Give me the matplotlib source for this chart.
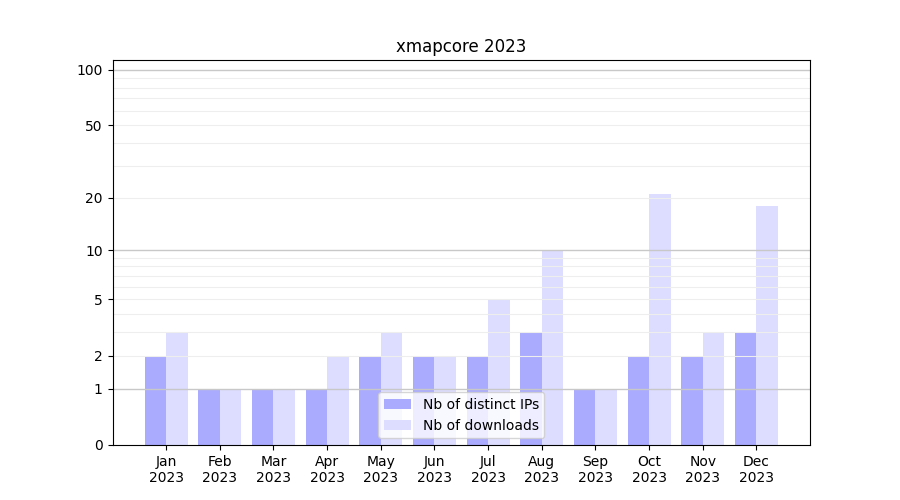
import numpy as np
import matplotlib.pyplot as plt

months = ['Jan', 'Feb', 'Mar', 'Apr', 'May', 'Jun', 'Jul', 'Aug', 'Sep', 'Oct', 'Nov', 'Dec']
year = '2023'
distinct_ips = [2, 1, 1, 1, 2, 2, 2, 3, 1, 2, 2, 3]
downloads = [3, 1, 1, 2, 3, 2, 5, 10, 1, 21, 3, 18]


def fwd(y):
    return np.log10(1 + np.clip(y, 0, None))


def inv(y):
    return 10 ** y - 1


fig, ax = plt.subplots(figsize=(9, 5), dpi=100)
x = np.arange(len(months))
ax.bar(x - 0.2, distinct_ips, width=0.4, color='#aaaaff', label='Nb of distinct IPs')
ax.bar(x + 0.2, downloads, width=0.4, color='#ddddff', label='Nb of downloads')

ax.set_yscale('function', functions=(fwd, inv))
ax.set_ylim(0, 113)
ax.set_yticks([0, 1, 2, 5, 10, 20, 50, 100])
ax.set_yticklabels(['0', '1', '2', '5', '10', '20', '50', '100'])
minor = [v for d in (1, 10) for v in range(2 * d, 10 * d, d)]
ax.set_yticks(minor, minor=True)
ax.tick_params(axis='y', which='minor', left=False)
# major lines at decades, light lines at the other steps (above bars, below spines)
for v in (1, 10, 100):
    ax.axhline(v, color='#c8c8c8', lw=1, zorder=2)
for v in minor:
    ax.axhline(v, color='#eeeeee', lw=0.8, zorder=2)

ax.set_xticks(x)
ax.set_xticklabels([f'{m}\n{year}' for m in months])
ax.set_xlim(-1, 12)
ax.set_title('xmapcore 2023')
ax.legend(loc='lower center')

plt.savefig('out.png')
